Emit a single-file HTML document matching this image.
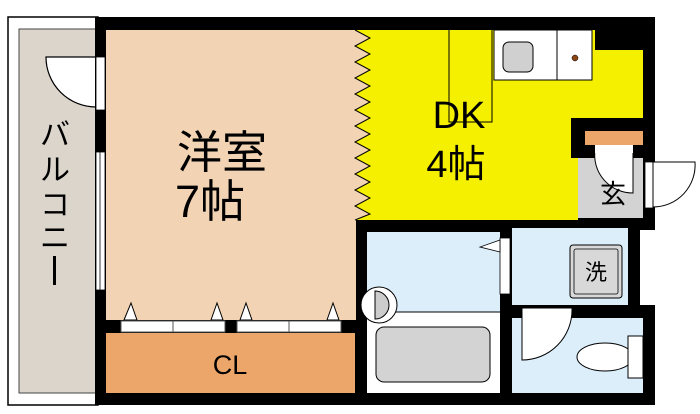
<!DOCTYPE html>
<html><head><meta charset="utf-8"><style>
html,body{margin:0;padding:0;background:#fff;}
svg{display:block;}
text{font-family:"Liberation Sans","Noto Sans CJK JP",sans-serif;}
</style></head><body>
<svg width="700" height="414" viewBox="0 0 700 414" xmlns="http://www.w3.org/2000/svg">
<rect x="8" y="17" width="90" height="388" fill="#fff" stroke="#000" stroke-width="1.5"/>
<rect x="19" y="29" width="77" height="364" fill="#dcd5cc" stroke="#444" stroke-width="1"/>
<path d="M96 57 L46 57 A50 50 0 0 0 96 107 Z" fill="#fff" stroke="#000" stroke-width="1.2"/>
<g font-size="30" text-anchor="middle">
<text x="55" y="145">バ</text>
<text x="55" y="180">ル</text>
<text x="55" y="215">コ</text>
<text x="55" y="248">ニ</text>
</g>
<rect x="53" y="256" width="3" height="29" fill="#000"/>

<rect x="95" y="17" width="560" height="388" fill="#000"/>
<rect x="106" y="30" width="250" height="290" fill="#f2d3b4"/>
<rect x="106" y="333" width="249" height="60" fill="#eda66a"/>
<text x="230" y="374" font-size="27" text-anchor="middle">CL</text>
<g fill="#fff" stroke="#555" stroke-width="1">
<rect x="121" y="321" width="52" height="11"/><rect x="173" y="321" width="52" height="11"/>
<rect x="237" y="321" width="52" height="11"/><rect x="289" y="321" width="52" height="11"/>
</g>
<g fill="#fff" stroke="#000" stroke-width="1">
<path d="M124 320 L131 303 L137 320Z"/><path d="M211 320 L217 303 L223 320Z"/>
<path d="M240 320 L246 303 L252 320Z"/><path d="M327 320 L333 303 L339 320Z"/>
</g>
<rect x="96" y="57" width="9" height="53" fill="#fff" stroke="#000" stroke-width="0.8"/>
<rect x="96" y="152" width="9" height="138" fill="#fff" stroke="#000" stroke-width="0.8"/>
<line x1="100" y1="152" x2="100" y2="290" stroke="#000" stroke-width="0.8"/>
<text x="222" y="168" font-size="45" text-anchor="middle">洋室</text>
<text x="210" y="217" font-size="45" text-anchor="middle">7帖</text>

<path d="M355 30 L595 30 L595 50 L643 50 L643 118 L571 118 L571 158 L578 158 L578 220 L355 220 Z" fill="#f5f000"/>
<path d="M355 30 L370 38 L355 46 L370 54 L355 62 L370 70 L355 78 L370 86 L355 94 L370 102 L355 110 L370 118 L355 126 L370 134 L355 142 L370 150 L355 158 L370 166 L355 174 L370 182 L355 190 L370 198 L355 206 L370 214 L355 220" fill="#f2d3b4" stroke="#000" stroke-width="1"/>
<path d="M449 30 L449 122 L492 122 L492 30" fill="none" stroke="#000" stroke-width="1"/>
<rect x="494" y="30" width="98" height="50" fill="#fff" stroke="#000" stroke-width="1"/>
<line x1="557" y1="30" x2="557" y2="80" stroke="#000"/>
<rect x="503" y="42" width="30" height="30" rx="6" fill="#d0d0d0" stroke="#000" stroke-width="1"/>
<circle cx="575" cy="58" r="3" fill="#8b4513" stroke="#000" stroke-width="0.5"/>
<text x="459" y="128" font-size="38" text-anchor="middle">DK</text>
<text x="456" y="177" font-size="38" text-anchor="middle">4帖</text>

<rect x="585" y="131" width="58" height="14" fill="#eda66a"/>
<rect x="578" y="158" width="65" height="60" fill="#d3d3d3"/>
<path d="M595 150 L633 150 L633 193 A38 38 0 0 1 595 150 Z" fill="#fff" stroke="#000" stroke-width="1"/>
<rect x="595" y="145" width="38" height="8" fill="#fff"/>
<text x="613" y="203" font-size="26" text-anchor="middle">玄</text>
<rect x="645" y="162" width="8" height="46" fill="#fff" stroke="#000" stroke-width="0.8"/>
<path d="M653 162 L695 162 A42 42 0 0 1 653 207 Z" fill="#fff" stroke="#000" stroke-width="1"/>
<rect x="640" y="230" width="60" height="75" fill="#fff"/>
<rect x="641" y="218" width="14" height="12" fill="#000"/>

<rect x="367" y="232" width="133" height="161" fill="#dbeefa"/>
<rect x="367" y="312" width="133" height="81" fill="#fff"/>
<line x1="367" y1="312" x2="500" y2="312" stroke="#000" stroke-width="1"/>
<rect x="376" y="327" width="114" height="55" rx="8" fill="#d3d3d3" stroke="#000" stroke-width="1"/>
<circle cx="379" cy="305" r="18" fill="#fff" stroke="#000" stroke-width="1"/>
<path d="M375 291 A13 13 0 0 1 375 319 Z" fill="#ccc" stroke="#000" stroke-width="1"/>
<rect x="500" y="238" width="10" height="56" fill="#fff" stroke="#000" stroke-width="0.8"/>
<path d="M500 240 L480 247 L500 252 Z" fill="#fff" stroke="#000" stroke-width="0.8"/>
<rect x="512" y="228" width="116" height="77" fill="#dbeefa"/>
<rect x="570" y="245" width="52" height="53" rx="3" fill="#d8d8d8" stroke="#000" stroke-width="1"/>
<rect x="574" y="249" width="44" height="45" rx="2" fill="none" stroke="#000" stroke-width="0.8"/>
<text x="596" y="280" font-size="22" text-anchor="middle">洗</text>
<rect x="512" y="318" width="131" height="75" fill="#dbeefa"/>
<path d="M522 308 L572 308 L572 310 A50 50 0 0 1 522 360 Z" fill="#fff" stroke="#000" stroke-width="1"/>
<ellipse cx="605" cy="357" rx="28" ry="14" fill="#fff" stroke="#000" stroke-width="1"/>
<rect x="628" y="336" width="15" height="42" fill="#fff" stroke="#000" stroke-width="1"/>
</svg>
</body></html>
